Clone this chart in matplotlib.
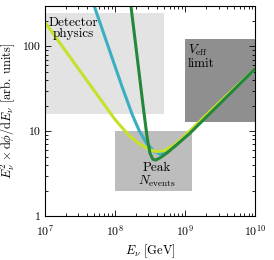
import matplotlib
matplotlib.use("Agg")
import matplotlib.pyplot as plt
from matplotlib.patches import Rectangle
from matplotlib.ticker import LogLocator, FixedLocator, FixedFormatter, NullFormatter
import numpy as np

plt.rcParams['font.family'] = 'serif'
plt.rcParams['font.serif'] = ['cmr10', 'DejaVu Serif']
plt.rcParams['mathtext.fontset'] = 'cm'
plt.rcParams['axes.formatter.use_mathtext'] = True
plt.rcParams['axes.unicode_minus'] = False

# log10(E) and log10(flux)
yellow_logE = [7.0, 7.5, 8.0, 8.2, 8.35, 8.5, 8.6, 8.7, 8.85, 9.0, 9.2, 9.5, 10.0]
yellow_logF = [2.29, 1.715, 1.14, 0.95, 0.85, 0.78, 0.76, 0.77, 0.84, 0.95, 1.11, 1.35, 1.74]

teal_logE = [7.6, 7.9, 8.1, 8.25, 8.35, 8.45, 8.55, 8.64, 8.72, 8.85, 9.0, 9.2, 9.5, 10.0]
teal_logF = [2.73, 2.01, 1.53, 1.19, 1.0, 0.86, 0.77, 0.73, 0.745, 0.82, 0.935, 1.10, 1.34, 1.735]

green_logE = [8.2, 8.3, 8.4, 8.46, 8.5, 8.54, 8.58, 8.65, 8.75, 8.92, 9.06, 9.5, 10.0]
green_logF = [2.67, 1.99, 1.31, 0.92, 0.74, 0.67, 0.66, 0.69, 0.75, 0.87, 0.97, 1.33, 1.74]

# regions: (E_min, E_max, F_min, F_max)
region_detector = (1e7, 5e8, 16, 250)
region_veff = (1e9, 1e10, 13, 123)
region_peak = (1e8, 1.25e9, 2, 10)

xticks = [1e7, 1e8, 1e9, 1e10]
xticklabels = [r'$10^{7}$', r'$10^{8}$', r'$10^{9}$', r'$10^{10}$']
yticks = [1, 10, 100]
yticklabels = ['1', '10', '100']

fig = plt.figure(figsize=(2.74, 2.60), dpi=100)
ax = fig.add_axes([0.163, 0.169, 0.769, 0.808])
ax.set_xscale('log')
ax.set_yscale('log')
ax.set_xlim(1e7, 1e10)
ax.set_ylim(1, 300)

def add_box(r, color):
    ax.add_patch(Rectangle((r[0], r[2]), r[1] - r[0], r[3] - r[2],
                           facecolor=color, edgecolor='none', zorder=1))

add_box(region_detector, '#e3e3e3')
add_box(region_veff, '#8f8f8f')
add_box(region_peak, '#bdbdbd')

lw = 2.2
ax.plot(10 ** np.array(teal_logE), 10 ** np.array(teal_logF), color='#3aafc2', lw=lw, zorder=3, solid_capstyle='butt')
ax.plot(10 ** np.array(yellow_logE), 10 ** np.array(yellow_logF), color='#c8e02a', lw=lw, zorder=4, solid_capstyle='butt')
ax.plot(10 ** np.array(green_logE), 10 ** np.array(green_logF), color='#23883a', lw=lw, zorder=5, solid_capstyle='butt')

fs = 9.5
ax.text(2.55e7, 225, 'Detector\nphysics', ha='center', va='top', fontsize=fs, linespacing=0.95, zorder=6)
ax.text(1.1e9, 110, r'$V_{\mathrm{eff}}$' + '\nlimit', ha='left', va='top', fontsize=fs, linespacing=0.95, zorder=6)
ax.text(3.9e8, 4.3, 'Peak\n' + r'$N_{\mathrm{events}}$', ha='center', va='top', fontsize=fs, linespacing=0.95, zorder=6)

ax.xaxis.set_major_locator(FixedLocator(xticks))
ax.xaxis.set_major_formatter(FixedFormatter(xticklabels))
ax.xaxis.set_minor_locator(LogLocator(base=10, subs=np.arange(2, 10), numticks=20))
ax.xaxis.set_minor_formatter(NullFormatter())
ax.yaxis.set_major_locator(FixedLocator(yticks))
ax.yaxis.set_major_formatter(FixedFormatter(yticklabels))
ax.yaxis.set_minor_locator(LogLocator(base=10, subs=np.arange(2, 10), numticks=20))
ax.yaxis.set_minor_formatter(NullFormatter())

ax.tick_params(which='both', direction='in', top=True, right=True, labelsize=8.5, width=0.6)
ax.tick_params(which='major', length=4)
ax.tick_params(axis='x', which='major', pad=5)
ax.tick_params(axis='y', which='major', pad=3)
ax.tick_params(which='minor', length=2)
for s in ax.spines.values():
    s.set_linewidth(0.8)
    s.set_zorder(7)

ax.set_xlabel(r'$E_\nu$ [GeV]', fontsize=9, labelpad=3)
ax.set_ylabel(r'$E_\nu^2 \times \mathrm{d}\phi/\mathrm{d}E_\nu$ [arb. units]', fontsize=9, labelpad=4)

fig.savefig('out.png', dpi=100)
